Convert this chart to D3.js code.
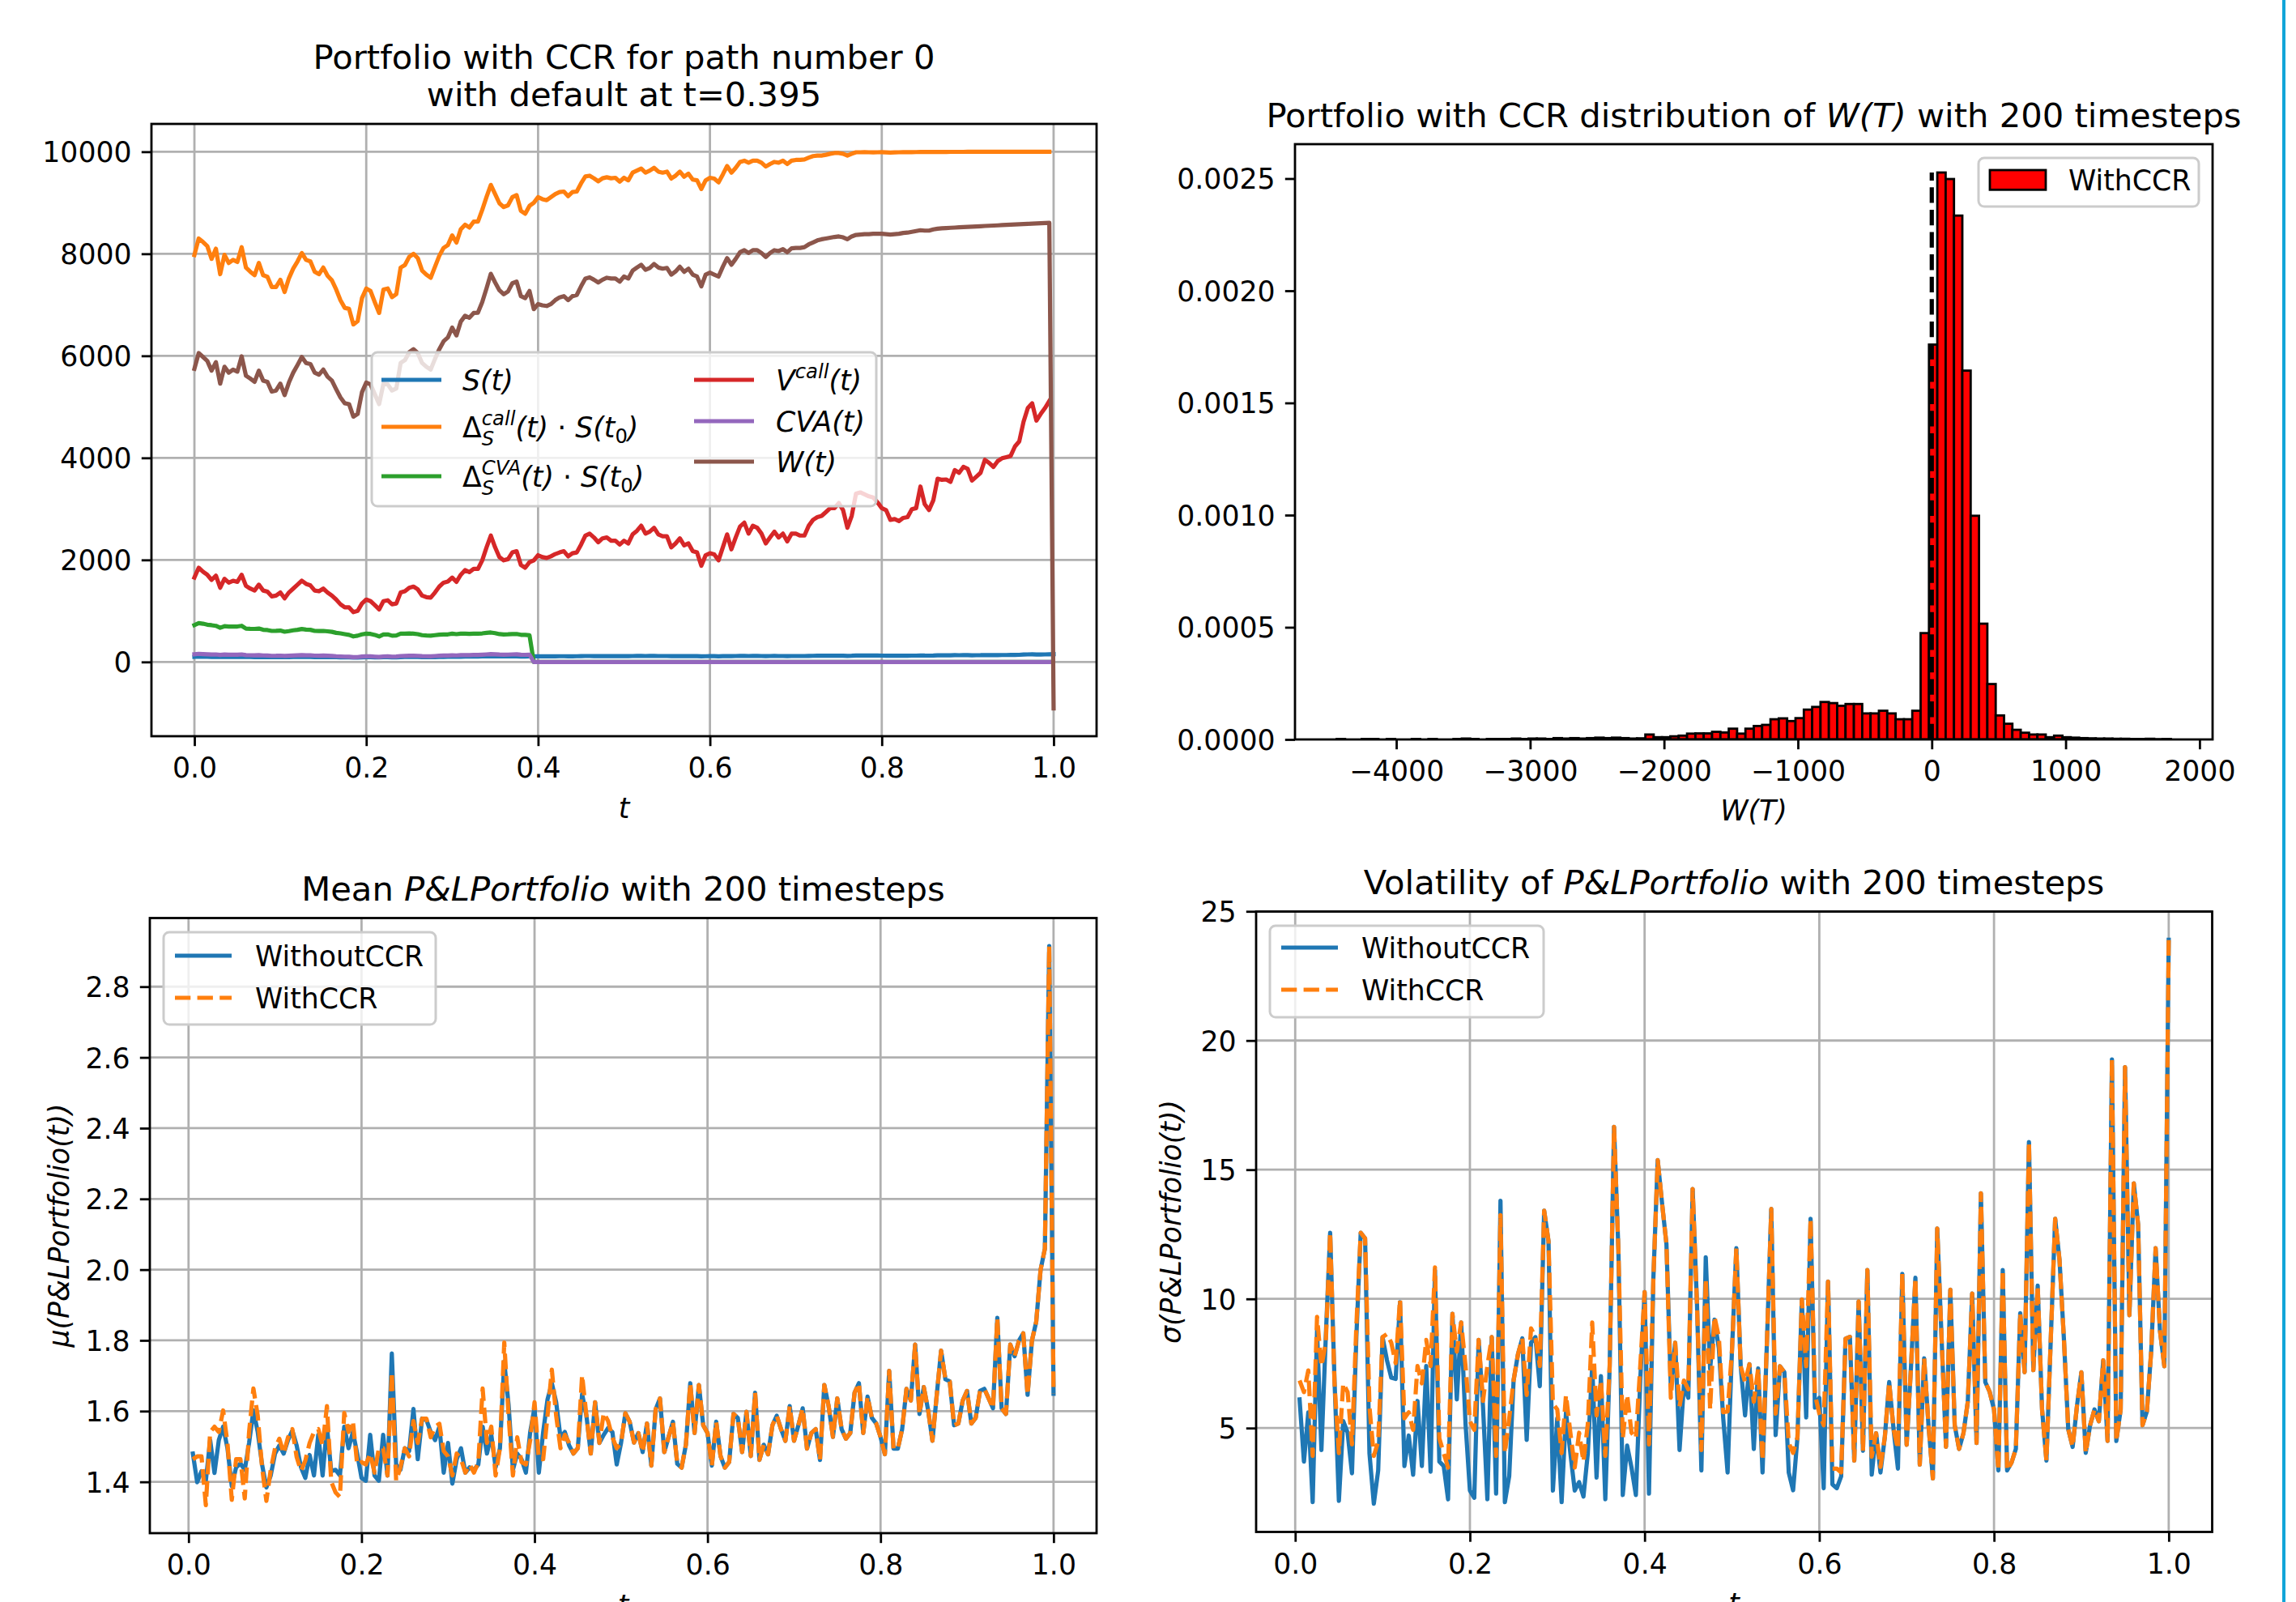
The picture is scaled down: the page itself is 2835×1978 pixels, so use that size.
<!DOCTYPE html>
<html><head><meta charset="utf-8">
<script src="https://cdn.jsdelivr.net/npm/d3@7"></script>
<style>body{margin:0;background:#fff} svg text{font-family:'DejaVu Sans',sans-serif;white-space:pre}</style>
</head><body>
<svg id="c" width="2835" height="1978" xml:space="preserve"></svg>
<script>
// ---------------- DATA ----------------
// Panel 1: single path, 200 timesteps, t = 0 .. 1
const pathSteps = 200;
const sPath = [100,104,103,101,99,101,96,100,98,99,99,102,97,96,95,97,95,95,93,93,94,92,94,96,97,99,98,97,95,95,96,95,94,92,90,89,89,86,87,90,92,92,90,88,92,92,90,91,95,96,97,98,97,94,93,93,95,97,99,100,102,100,103,104,104,105,105,108,111,114,111,109,108,108,110,111,107,107,108,109,110,110,110,110,111,112,112,111,111,112,114,116,116,115,114,115,115,115,115,114,115,114,116,117,118,116,117,118,116,116,116,114,115,116,114,115,113,113,110,112,113,113,111,114,116,113,116,118,119,116,118,118,116,114,116,117,116,116,115,116,116,116,116,118,120,121,121,122,123,123,124,123,119,122,127,127,127,126,126,125,124,123,121,121,121,122,122,124,124,128,125,124,126,131,131,131,130,133,132,134,133,131,132,133,136,135,134,135,136,136,137,139,140,145,148,149,145,147,148,150,152];
const deltaCallS0 = [7977,8300,8230,8150,7900,8100,7600,7980,7820,7880,7840,8130,7730,7650,7580,7820,7580,7550,7350,7350,7490,7250,7520,7710,7850,8015,7880,7850,7650,7600,7730,7570,7480,7300,7090,6940,6920,6615,6680,7130,7320,7270,7050,6840,7300,7320,7150,7210,7730,7780,7940,8000,7915,7670,7590,7530,7745,7960,8115,8170,8360,8220,8480,8570,8515,8630,8630,8860,9115,9350,9170,8990,8915,8950,9110,9150,8840,8785,8940,9000,9110,9070,9050,9110,9170,9210,9220,9130,9210,9220,9380,9515,9530,9480,9420,9480,9500,9480,9490,9415,9490,9440,9590,9630,9670,9590,9630,9685,9610,9590,9610,9475,9530,9610,9510,9570,9455,9440,9270,9440,9490,9475,9400,9555,9720,9590,9685,9800,9825,9785,9825,9825,9785,9710,9760,9800,9785,9825,9760,9825,9840,9840,9850,9885,9915,9925,9925,9940,9960,9975,9975,9960,9925,9960,9990,9990,9992,9990,9988,9990,9992,9988,9985,9988,9990,9992,9993,9992,9994,9995,9995,9996,9996,9997,9997,9997,9998,9998,9998,9998,9999,9999,9999,9999,9999,9999,9999,10000,10000,10000,10000,10000,10000,10000,10000,10000,10000,10000,10000,10000];
const deltaCvaS0 = [723,760,750,730,720,708,670,700,695,692,695,708,654,650,648,654,630,625,608,610,615,592,605,620,630,646,635,630,608,605,608,600,590,570,560,545,530,500,515,540,554,550,530,500,538,540,515,520,554,556,560,554,545,525,518,515,525,535,538,540,554,545,555,554,550,554,554,560,570,577,565,546,540,542,546,548,532,530,523,
0,0,0,0,0,0,0,0,0,0,0,0,0,0,0,0,0,0,0,0,0,0,0,0,0,0,0,0,0,0,0,0,0,0,0,0,0,0,0,0,0,0,0,0,0,0,0,0,0,0,0,0,0,0,0,0,0,0,0,0,0,0,0,0,0,0,0,0,0,0,0,0,0,0,0,0,0,0,0,0,0,0,0,0,0,0,0,0,0,0,0,0,0,0,0,0,0,0,0,0,0,0,0,0,0,0,0,0,0,0,0,0,0,0,0,0,0,0,0,0,0];
const vCall = [1654,1846,1770,1708,1608,1692,1454,1630,1554,1592,1570,1708,1492,1438,1400,1515,1400,1377,1285,1300,1361,1246,1361,1438,1515,1592,1530,1500,1400,1385,1438,1361,1300,1223,1130,1070,1070,977,1000,1146,1223,1192,1115,1030,1192,1208,1130,1146,1361,1385,1454,1477,1423,1300,1270,1261,1361,1477,1554,1577,1654,1570,1708,1800,1762,1823,1823,1992,2246,2477,2246,2054,1992,2015,2146,2170,1900,1846,1954,1992,2092,2054,2038,2070,2115,2146,2170,2070,2130,2146,2300,2477,2515,2440,2346,2423,2440,2377,2377,2300,2377,2323,2500,2570,2670,2515,2554,2630,2500,2462,2462,2246,2323,2423,2285,2323,2170,2146,1885,2092,2130,2108,1992,2246,2500,2208,2440,2654,2730,2515,2670,2630,2515,2323,2440,2554,2440,2515,2362,2515,2515,2477,2477,2670,2785,2838,2862,2938,3015,3015,3115,2977,2630,2862,3300,3323,3285,3246,3223,3130,3015,2977,2785,2800,2762,2823,2838,2992,3015,3438,3092,2977,3170,3592,3570,3577,3530,3762,3708,3823,3785,3554,3630,3708,3962,3900,3823,3938,3992,4015,4038,4223,4323,4708,4977,5070,4730,4862,4977,5115];
const cvaPath = [150,160,155,150,145,148,138,145,142,143,142,148,135,132,130,135,128,126,120,121,124,118,122,126,130,134,130,130,124,122,125,121,118,112,108,104,102,94,96,106,110,109,104,98,108,109,104,106,116,118,121,122,120,114,112,110,116,121,125,127,131,128,133,136,135,137,137,142,148,155,150,145,143,144,148,149,142,140,144,
0,0,0,0,0,0,0,0,0,0,0,0,0,0,0,0,0,0,0,0,0,0,0,0,0,0,0,0,0,0,0,0,0,0,0,0,0,0,0,0,0,0,0,0,0,0,0,0,0,0,0,0,0,0,0,0,0,0,0,0,0,0,0,0,0,0,0,0,0,0,0,0,0,0,0,0,0,0,0,0,0,0,0,0,0,0,0,0,0,0,0,0,0,0,0,0,0,0,0,0,0,0,0,0,0,0,0,0,0,0,0,0,0,0,0,0,0,0,0,0,0];
const wealth = [5746,6054,5977,5900,5710,5877,5454,5785,5670,5730,5690,5990,5610,5554,5490,5710,5515,5490,5300,5320,5454,5230,5477,5670,5820,5977,5860,5840,5670,5630,5730,5590,5515,5346,5185,5070,5054,4808,4860,5285,5477,5440,5246,5054,5454,5440,5320,5360,5860,5915,6070,6130,6054,5860,5785,5730,5940,6130,6285,6360,6554,6400,6670,6785,6746,6840,6846,7054,7323,7608,7438,7285,7208,7262,7423,7454,7170,7130,7270,6915,7015,6990,6977,7015,7092,7146,7170,7092,7170,7192,7362,7515,7538,7492,7438,7492,7530,7515,7515,7454,7554,7515,7670,7730,7785,7685,7723,7800,7730,7708,7723,7592,7654,7746,7646,7708,7592,7554,7362,7592,7630,7592,7554,7746,7915,7785,7900,8030,8070,8015,8070,8070,8015,7938,8015,8070,8054,8092,8030,8108,8115,8115,8130,8185,8223,8262,8285,8300,8315,8330,8340,8323,8285,8340,8370,8377,8385,8385,8392,8392,8392,8385,8377,8385,8392,8408,8415,8430,8446,8462,8454,8454,8477,8492,8500,8505,8510,8514,8518,8522,8527,8531,8535,8540,8545,8549,8553,8557,8562,8566,8570,8574,8579,8583,8587,8591,8596,8600,8604,8608,-910];

// Panel 2: histogram of W(T), 100 bins between histMin and histMax (density)
const histMin = -4445, histMax = 1786;
const histDensity = [0.000002,0,0,0.000002,0.000002,0,0.000002,0,0,0.000002,0,0.000002,0,0,0.000002,0.000004,0.000002,0,0.000002,0.000002,0.000002,0.000004,0.000002,0.000004,0.000004,0.000002,0.000006,0.000004,0.000006,0.000004,0.000006,0.000008,0.000006,0.000008,0.000006,0.000004,0.000005,0.000022,0.00001,0.00001,0.000014,0.000017,0.000026,0.000027,0.000027,0.000034,0.000031,0.000048,0.000026,0.000048,0.00006,0.000065,0.00009,0.000094,0.000082,0.000095,0.000133,0.000145,0.000167,0.000162,0.00015,0.000158,0.000158,0.000116,0.000116,0.000128,0.000116,0.00009,0.00009,0.000128,0.000474,0.00176,0.002527,0.002498,0.002335,0.001644,0.000997,0.000516,0.000247,0.000107,0.00007,0.000043,0.00003,0.000022,0.000022,0.00001,0.000017,0.00001,0.000008,0.000006,0.000005,0.000004,0.000004,0.000003,0.000003,0.000002,0.000002,0.000003,0.000001,0.000002];
const refLine = {x: 0, top: 0.002527};

// Panels 3 & 4: 200 timesteps, t = 0.005 .. 1
const meanWithout = [1.480,1.399,1.430,1.403,1.518,1.425,1.518,1.556,1.495,1.388,1.441,1.452,1.434,1.510,1.602,1.541,1.449,1.384,1.418,1.480,1.503,1.480,1.518,1.545,1.503,1.441,1.411,1.476,1.418,1.533,1.418,1.556,1.430,1.434,1.418,1.556,1.495,1.541,1.480,1.411,1.403,1.533,1.418,1.403,1.533,1.418,1.763,1.449,1.434,1.495,1.487,1.606,1.464,1.579,1.575,1.541,1.518,1.556,1.426,1.510,1.395,1.464,1.495,1.426,1.441,1.434,1.449,1.556,1.480,1.533,1.441,1.495,1.740,1.618,1.434,1.480,1.464,1.426,1.541,1.610,1.426,1.541,1.633,1.679,1.625,1.526,1.541,1.503,1.480,1.495,1.648,1.587,1.480,1.625,1.510,1.533,1.552,1.541,1.449,1.510,1.594,1.570,1.511,1.538,1.484,1.565,1.446,1.605,1.636,1.484,1.527,1.570,1.451,1.440,1.505,1.679,1.538,1.674,1.560,1.538,1.446,1.570,1.473,1.440,1.456,1.592,1.581,1.484,1.598,1.473,1.652,1.462,1.505,1.478,1.560,1.587,1.549,1.516,1.614,1.516,1.560,1.608,1.494,1.538,1.549,1.462,1.674,1.614,1.527,1.636,1.549,1.522,1.538,1.652,1.679,1.538,1.641,1.581,1.565,1.527,1.478,1.714,1.494,1.494,1.549,1.663,1.630,1.788,1.592,1.668,1.603,1.516,1.646,1.771,1.690,1.684,1.560,1.565,1.630,1.657,1.565,1.581,1.657,1.663,1.636,1.608,1.864,1.608,1.592,1.788,1.755,1.799,1.820,1.646,1.799,1.853,1.999,2.059,2.915,1.649];
const meanWith = [1.464,1.472,1.472,1.334,1.541,1.556,1.541,1.602,1.510,1.349,1.464,1.464,1.353,1.541,1.664,1.587,1.441,1.346,1.434,1.495,1.522,1.480,1.526,1.549,1.470,1.431,1.460,1.510,1.541,1.549,1.503,1.614,1.400,1.370,1.357,1.595,1.541,1.572,1.449,1.456,1.449,1.480,1.426,1.495,1.495,1.418,1.710,1.403,1.441,1.495,1.472,1.572,1.510,1.579,1.579,1.526,1.556,1.564,1.487,1.472,1.418,1.480,1.464,1.426,1.449,1.426,1.456,1.664,1.510,1.556,1.418,1.495,1.794,1.587,1.418,1.526,1.456,1.449,1.518,1.625,1.464,1.464,1.587,1.717,1.587,1.495,1.533,1.510,1.480,1.495,1.702,1.587,1.480,1.625,1.510,1.595,1.572,1.526,1.495,1.510,1.594,1.570,1.511,1.538,1.484,1.565,1.446,1.605,1.636,1.484,1.527,1.570,1.451,1.440,1.505,1.679,1.538,1.674,1.560,1.538,1.446,1.570,1.473,1.440,1.456,1.592,1.581,1.484,1.598,1.473,1.652,1.462,1.505,1.478,1.560,1.587,1.549,1.516,1.614,1.516,1.560,1.608,1.494,1.538,1.549,1.462,1.674,1.614,1.527,1.636,1.549,1.522,1.538,1.652,1.679,1.538,1.641,1.581,1.565,1.527,1.478,1.714,1.494,1.494,1.549,1.663,1.630,1.788,1.592,1.668,1.603,1.516,1.646,1.771,1.690,1.684,1.560,1.565,1.630,1.657,1.565,1.581,1.657,1.663,1.636,1.608,1.864,1.608,1.592,1.788,1.755,1.799,1.820,1.646,1.799,1.853,1.999,2.059,2.915,1.649];
const volWithout = [6.11,3.70,5.61,2.13,8.75,4.15,8.52,12.56,6.84,2.18,5.27,4.82,3.25,8.52,12.56,12.34,4.03,2.07,3.36,8.52,7.63,6.95,6.90,9.87,3.53,4.71,3.19,6.05,3.53,7.40,3.31,11.11,3.70,3.53,2.24,9.42,6.11,9.09,5.16,2.58,2.30,8.41,5.83,2.24,8.52,2.46,13.80,2.13,3.14,6.84,7.85,8.47,4.54,8.30,8.52,6.62,13.41,12.23,2.58,5.38,2.13,5.61,4.03,2.58,2.91,2.35,4.03,7.40,3.08,7.01,2.24,7.40,16.66,11.89,2.41,4.32,3.47,2.41,6.84,10.26,2.46,10.77,15.37,13.69,12.12,6.62,8.30,4.15,6.67,6.17,14.25,9.76,3.36,11.61,7.29,9.20,8.08,5.38,3.28,8.00,11.96,7.39,5.49,7.47,4.19,7.31,3.28,8.30,13.48,4.73,7.39,7.16,3.28,2.59,4.65,9.98,5.41,13.10,5.79,6.17,2.67,10.67,2.82,2.67,3.13,8.46,8.53,3.74,9.90,4.12,11.12,3.20,4.80,3.28,4.65,6.78,4.95,3.43,10.97,4.35,7.39,10.82,3.58,7.70,5.11,3.05,12.72,8.46,4.27,10.36,5.11,4.19,4.80,6.02,10.21,4.42,14.09,6.78,6.40,5.72,3.36,11.12,3.36,3.66,4.19,9.45,7.16,16.07,7.24,10.51,5.72,3.74,8.46,13.10,11.50,8.46,4.95,4.27,5.87,7.16,4.04,5.11,5.72,5.26,7.62,4.50,19.27,4.50,5.72,18.97,9.37,14.47,12.87,5.11,5.64,8.00,11.96,8.76,7.39,23.90];
const volWith = [6.84,6.39,7.23,3.92,9.31,7.40,8.30,12.56,6.73,4.03,6.73,6.39,4.37,8.97,12.56,12.34,5.83,3.92,4.48,8.52,8.64,8.30,7.51,9.98,5.38,5.61,4.93,7.40,6.73,8.41,7.40,11.22,4.60,4.03,3.47,9.42,7.96,9.09,7.40,5.27,4.93,8.41,6.05,7.40,8.52,3.92,13.24,4.03,5.38,6.84,7.85,8.47,6.28,8.86,8.52,7.40,13.41,12.23,5.94,5.72,4.03,6.28,4.82,3.47,4.82,3.70,5.16,9.09,5.49,6.84,3.92,7.40,16.66,11.89,4.60,6.28,4.82,4.60,7.40,10.26,4.37,10.77,15.37,13.69,12.12,6.17,8.30,5.83,6.84,6.50,14.25,9.76,4.15,10.77,5.72,9.31,8.52,5.61,5.64,8.00,11.96,7.39,6.78,7.47,6.02,7.31,3.74,8.30,13.48,5.56,7.39,7.16,4.42,4.04,4.65,9.98,7.39,13.10,6.30,5.56,5.11,10.67,3.43,3.43,3.28,8.46,8.53,3.74,9.90,4.12,11.12,3.89,4.80,3.50,4.65,6.78,4.95,4.19,10.97,4.35,7.39,10.82,3.58,7.70,5.11,3.05,12.72,8.46,4.27,10.36,5.11,4.19,4.80,6.02,10.21,4.42,14.09,6.78,6.40,5.72,3.36,11.12,3.36,3.66,4.19,9.45,7.16,16.07,7.24,10.51,5.72,3.74,8.46,13.10,11.50,8.46,4.95,4.27,5.87,7.16,4.04,5.11,5.72,5.26,7.62,4.50,19.27,4.50,5.72,18.97,9.37,14.47,12.87,5.11,5.64,8.00,11.96,8.76,7.39,23.90];

const tTicks = [0, 0.2, 0.4, 0.6, 0.8, 1.0];
const p1YTicks = [0, 2000, 4000, 6000, 8000, 10000];
const p2XTicks = [-4000, -3000, -2000, -1000, 0, 1000, 2000];
const p2YTicks = [0, 0.0005, 0.001, 0.0015, 0.002, 0.0025];
const p3YTicks = [1.4, 1.6, 1.8, 2.0, 2.2, 2.4, 2.6, 2.8];
const p4YTicks = [5, 10, 15, 20, 25];

// ---------------- STYLE ----------------
const FS = 34.7, TFS = 41.7, LW = 5.2, GW = 2.8, TICK = 12.2;
const COL = {blue:'#1f77b4', orange:'#ff7f0e', green:'#2ca02c', red:'#d62728', purple:'#9467bd', brown:'#8c564b'};
const DASH = '19.3,8.3';
const svg = d3.select('#c');
svg.append('rect').attr('width', 2835).attr('height', 1978).attr('fill', '#fff');

function pad(lo, hi){ const r = hi - lo; return [lo - 0.05*r, hi + 0.05*r]; }

function rich(parent, x, y, segs, size, anchor){
  const g = parent.append('g');
  let cx = x, prevStart = x, prevEnd = x;
  segs.forEach(s => {
    const fs = size * (s.s || 1);
    const start = s.stack ? prevStart : cx;
    const t = g.append('text').attr('x', start).attr('y', y + (s.dy || 0) * size)
      .attr('xml:space', 'preserve').style('white-space', 'pre')
      .attr('font-size', fs).attr('font-style', s.i ? 'italic' : 'normal').attr('fill', '#000').text(s.t);
    const w = t.node().getComputedTextLength();
    const end = start + w;
    cx = s.stack ? Math.max(prevEnd, end) : end;
    prevStart = start; prevEnd = end;
  });
  if (anchor === 'middle') g.attr('transform', `translate(${-(cx - x)/2},0)`);
  return g;
}

let clipId = 0;
function panel(box, xd, yd, xticks, yticks, xfmt, yfmt, grid){
  const x = d3.scaleLinear().domain(xd).range([box.l, box.r]);
  const y = d3.scaleLinear().domain(yd).range([box.b, box.t]);
  if (grid){
    const gg = svg.append('g').attr('stroke', '#b0b0b0').attr('stroke-width', GW);
    gg.selectAll(null).data(xticks).join('line').attr('x1', d => x(d)).attr('x2', d => x(d)).attr('y1', box.t).attr('y2', box.b);
    gg.selectAll(null).data(yticks).join('line').attr('y1', d => y(d)).attr('y2', d => y(d)).attr('x1', box.l).attr('x2', box.r);
  }
  const id = 'clip' + (clipId++);
  svg.append('clipPath').attr('id', id).append('rect').attr('x', box.l).attr('y', box.t).attr('width', box.r - box.l).attr('height', box.b - box.t);
  const plot = svg.append('g').attr('clip-path', `url(#${id})`);
  return {x, y, plot, box, xticks, yticks, xfmt, yfmt};
}
function styleAxis(a){
  a.select('.domain').remove();
  a.attr('font-family', null).attr('font-size', null);
  a.selectAll('line').attr('stroke', '#000').attr('stroke-width', GW);
  a.selectAll('text').attr('fill', '#000').style('font-size', FS + 'px').style('font-family', 'DejaVu Sans');
}
function finish(p){
  svg.append('rect').attr('x', p.box.l).attr('y', p.box.t).attr('width', p.box.r - p.box.l).attr('height', p.box.b - p.box.t)
    .attr('fill', 'none').attr('stroke', '#000').attr('stroke-width', GW);
  const ax = svg.append('g').attr('transform', `translate(0,${p.box.b})`)
    .call(d3.axisBottom(p.x).tickValues(p.xticks).tickFormat(p.xfmt).tickSize(TICK).tickPadding(TICK));
  styleAxis(ax); ax.selectAll('text').attr('y', 26.5);
  const ay = svg.append('g').attr('transform', `translate(${p.box.l},0)`)
    .call(d3.axisLeft(p.y).tickValues(p.yticks).tickFormat(p.yfmt).tickSize(TICK).tickPadding(TICK));
  styleAxis(ay); ay.selectAll('text').attr('dy', '0.36em');
}
function drawLine(p, xs, ys, color, dashed){
  const line = d3.line().x((d, i) => p.x(xs[i])).y(d => p.y(d));
  const path = p.plot.append('path').datum(ys).attr('d', line).attr('fill', 'none').attr('stroke', color)
    .attr('stroke-width', LW).attr('stroke-linejoin', 'round');
  if (dashed) path.attr('stroke-dasharray', DASH).attr('stroke-linecap', 'butt');
  else path.attr('stroke-linecap', 'square');
}
function legendBox(x, y, w, h){
  svg.append('rect').attr('x', x).attr('y', y).attr('width', w).attr('height', h).attr('rx', 7)
    .attr('fill', '#fff').attr('fill-opacity', 0.8).attr('stroke', '#cccccc').attr('stroke-width', 3);
}
function legendLine(x1, x2, y, color, dashed){
  const l = svg.append('line').attr('x1', x1).attr('x2', x2).attr('y1', y).attr('y2', y).attr('stroke', color).attr('stroke-width', LW);
  if (dashed) l.attr('stroke-dasharray', DASH);
}

// ---------------- PANEL 1 ----------------
const pathT = d3.range(pathSteps + 1).map(i => i / pathSteps);
const all1 = [].concat(sPath, deltaCallS0, deltaCvaS0, vCall, cvaPath, wealth);
const p1 = panel({l:187, r:1354, t:153, b:909}, pad(0, 1), pad(d3.min(all1), d3.max(all1)), tTicks, p1YTicks, d3.format('.1f'), d3.format('d'), true);
drawLine(p1, pathT, sPath, COL.blue);
drawLine(p1, pathT, deltaCallS0, COL.orange);
drawLine(p1, pathT, deltaCvaS0, COL.green);
drawLine(p1, pathT, vCall, COL.red);
drawLine(p1, pathT, cvaPath, COL.purple);
drawLine(p1, pathT, wealth, COL.brown);
finish(p1);
svg.append('text').attr('x', 770.5).attr('y', 85).attr('text-anchor', 'middle').attr('font-size', TFS).text('Portfolio with CCR for path number 0');
svg.append('text').attr('x', 770.5).attr('y', 131).attr('text-anchor', 'middle').attr('font-size', TFS).text('with default at t=0.395');
rich(svg, 770.5, 1010, [{t:'t', i:1}], FS, 'middle');
legendBox(459, 435, 623, 190);
const leg1 = [
  {x1:471, x2:545, tx:571, y:469, c:COL.blue, segs:[{t:'S(t)', i:1}]},
  {x1:471, x2:545, tx:571, y:527, c:COL.orange, segs:[{t:'Δ'},{t:'S', i:1, s:0.7, dy:0.28},{t:'call', i:1, s:0.7, dy:-0.42, stack:1},{t:'(t)', i:1},{t:' · '},{t:'S(t', i:1},{t:'0', s:0.7, dy:0.2},{t:')', i:1}]},
  {x1:471, x2:545, tx:571, y:588, c:COL.green, segs:[{t:'Δ'},{t:'S', i:1, s:0.7, dy:0.28},{t:'CVA', i:1, s:0.7, dy:-0.42, stack:1},{t:'(t)', i:1},{t:' · '},{t:'S(t', i:1},{t:'0', s:0.7, dy:0.2},{t:')', i:1}]},
  {x1:857, x2:931, tx:958, y:469, c:COL.red, segs:[{t:'V', i:1},{t:'call', i:1, s:0.7, dy:-0.42},{t:'(t)', i:1}]},
  {x1:857, x2:931, tx:958, y:520, c:COL.purple, segs:[{t:'CVA(t)', i:1}]},
  {x1:857, x2:931, tx:958, y:570, c:COL.brown, segs:[{t:'W(t)', i:1}]}
];
leg1.forEach(e => { legendLine(e.x1, e.x2, e.y, e.c); rich(svg, e.tx, e.y + 13, e.segs, FS); });

// ---------------- PANEL 2 ----------------
const binW = (histMax - histMin) / histDensity.length;
const p2 = panel({l:1599, r:2732, t:178, b:913}, pad(histMin, histMax), [0, 1.05 * d3.max(histDensity)], p2XTicks, p2YTicks, d3.format('d'), d3.format('.4f'), false);
p2.plot.selectAll(null).data(histDensity).join('rect')
  .attr('x', (d, i) => p2.x(histMin + i * binW))
  .attr('width', (d, i) => p2.x(histMin + (i + 1) * binW) - p2.x(histMin + i * binW))
  .attr('y', d => p2.y(d)).attr('height', d => p2.y(0) - p2.y(d))
  .attr('fill', '#ff0000').attr('stroke', '#000').attr('stroke-width', GW);
p2.plot.append('line').attr('x1', p2.x(refLine.x)).attr('x2', p2.x(refLine.x)).attr('y1', p2.y(0)).attr('y2', p2.y(refLine.top))
  .attr('stroke', '#000').attr('stroke-width', LW).attr('stroke-dasharray', DASH);
finish(p2);
rich(svg, 2165.5, 157, [{t:'Portfolio with CCR distribution of '},{t:'W(T)', i:1},{t:' with 200 timesteps'}], TFS, 'middle');
rich(svg, 2165.5, 1013, [{t:'W(T)', i:1}], FS, 'middle');
legendBox(2443, 195, 272, 60);
svg.append('rect').attr('x', 2457).attr('y', 210).attr('width', 69).attr('height', 24.3).attr('fill', '#ff0000').attr('stroke', '#000').attr('stroke-width', GW);
svg.append('text').attr('x', 2554).attr('y', 235).attr('font-size', FS).text('WithCCR');

// ---------------- PANEL 3 ----------------
const pnlT = d3.range(1, pathSteps + 1).map(i => i / pathSteps);
const all3 = meanWithout.concat(meanWith);
const p3 = panel({l:185, r:1354, t:1133.5, b:1893}, pad(d3.min(pnlT), d3.max(pnlT)), pad(d3.min(all3), d3.max(all3)), tTicks, p3YTicks, d3.format('.1f'), d3.format('.1f'), true);
drawLine(p3, pnlT, meanWithout, COL.blue);
drawLine(p3, pnlT, meanWith, COL.orange, true);
finish(p3);
rich(svg, 769.5, 1112, [{t:'Mean '},{t:'P&LPortfolio', i:1},{t:' with 200 timesteps'}], TFS, 'middle');
rich(svg, 769.5, 1994, [{t:'t', i:1}], FS, 'middle');
const yl3 = svg.append('g').attr('transform', 'translate(84.5,1513) rotate(-90)');
rich(yl3, 0, 0, [{t:'μ(P&LPortfolio(t))', i:1}], FS, 'middle');
legendBox(202, 1151, 336, 114);
legendLine(216, 286, 1180, COL.blue); legendLine(216, 286, 1232, COL.orange, true);
svg.append('text').attr('x', 315).attr('y', 1193).attr('font-size', FS).text('WithoutCCR');
svg.append('text').attr('x', 315).attr('y', 1245).attr('font-size', FS).text('WithCCR');

// ---------------- PANEL 4 ----------------
const all4 = volWithout.concat(volWith);
const p4 = panel({l:1551, r:2731.5, t:1125.5, b:1891.5}, pad(d3.min(pnlT), d3.max(pnlT)), pad(d3.min(all4), d3.max(all4)), tTicks, p4YTicks, d3.format('.1f'), d3.format('d'), true);
drawLine(p4, pnlT, volWithout, COL.blue);
drawLine(p4, pnlT, volWith, COL.orange, true);
finish(p4);
rich(svg, 2141, 1104, [{t:'Volatility of '},{t:'P&LPortfolio', i:1},{t:' with 200 timesteps'}], TFS, 'middle');
rich(svg, 2141, 1992, [{t:'t', i:1}], FS, 'middle');
const yl4 = svg.append('g').attr('transform', 'translate(1458,1508.5) rotate(-90)');
rich(yl4, 0, 0, [{t:'σ(P&LPortfolio(t))', i:1}], FS, 'middle');
legendBox(1568, 1143, 338, 113);
legendLine(1582, 1652, 1170, COL.blue); legendLine(1582, 1652, 1222, COL.orange, true);
svg.append('text').attr('x', 1681).attr('y', 1183).attr('font-size', FS).text('WithoutCCR');
svg.append('text').attr('x', 1681).attr('y', 1235).attr('font-size', FS).text('WithCCR');

// right-edge vertical accent line
svg.append('line').attr('x1', 2820).attr('x2', 2820).attr('y1', 0).attr('y2', 1978).attr('stroke', '#12a5d8').attr('stroke-width', 4);
</script>
</body></html>
